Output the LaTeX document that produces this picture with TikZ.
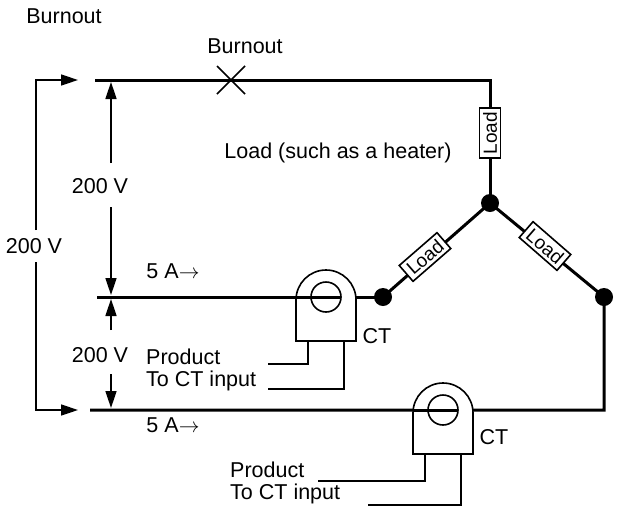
\documentclass[tikz,border=0pt]{standalone}
\usepackage{fontspec}
\setmainfont{Liberation Sans}
\usetikzlibrary{arrows.meta}
\tikzset{wire/.style={line width=3pt},
  thin/.style={line width=1.6pt},
  load/.style={draw,thin,fill=white,minimum width=50pt,minimum height=21pt,inner sep=1pt,font=\fontsize{19}{21}\selectfont},
  dot/.style={circle,fill=black,minimum size=18pt,inner sep=0pt},
  lbl/.style={inner sep=0pt,font=\fontsize{21.5}{24}\selectfont},
  tip/.style={-{Triangle[length=17pt,width=11pt]}}}
\begin{document}
\begin{tikzpicture}[x=1pt,y=-1pt]
\useasboundingbox (0,0) rectangle (628,512);
% nodes
\node[dot] (j) at (490,203) {};
\node[dot] (l) at (383,297) {};
\node[dot] (r) at (604,297) {};
\coordinate (ta) at (95,80);
\coordinate (tb) at (490,80);
\coordinate (ma) at (97,297);
\coordinate (ba) at (90,410);
\coordinate (bb) at (604,410);
% lines
\draw[wire] (ta) -- (tb) -- (j.center);
\draw[wire] (l.center) -- (j.center) -- (r.center) -- (bb) -- (ba);
\draw[wire] (ma) -- (l.center);
\node[load,rotate=90] (la) at (490,133) {Load};
\node[load,rotate=41] (lb) at (425,257) {Load};
\node[load,rotate=-41] (lc) at (545,246) {Load};
% burnout
\draw[thin] (217,66) -- (245,94) (217,94) -- (245,66);
\node[lbl] at (245,46) {Burnout};
\node[lbl] at (64,16) {Burnout};
\node[lbl] at (338,153) {Load (such as a heater)};
% voltages
\coordinate (ba1) at (36,80);
\coordinate (ba2) at (36,410);
\draw[thin,tip] (36,230) -- (ba1) -- (78,80);
\draw[thin,tip] (36,262) -- (ba2) -- (78,410);
\node[lbl] at (34,246) {200 V};
\draw[thin,tip] (111,163) -- (111,82);
\draw[thin,tip] (111,207) -- (111,295);
\node[lbl] at (100,186) {200 V};
\draw[thin,tip] (111,330) -- (111,299);
\draw[thin,tip] (111,374) -- (111,408);
\node[lbl] at (100,355) {200 V};
\node[lbl] at (173,271) {5 A$\rightarrow$};
\node[lbl] at (173,425) {5 A$\rightarrow$};
% CTs
\foreach \cx/\cy/\nm in {326/297/a,443/410/b}{
  \draw[thin,fill=white] (\cx-30,\cy+44) -- (\cx-30,\cy+3) arc (180:360:30) -- (\cx+30,\cy+44) -- cycle;
  \draw[wire] (\cx-30,\cy) -- (\cx+15,\cy);
  \draw[thin] (\cx,\cy) circle (15);
}
\draw[thin] (308,341) -- (308,364) -- (268,364);
\draw[thin] (344,341) -- (344,389) -- (268,389);
\draw[thin] (425,454) -- (425,481) -- (318,481);
\draw[thin] (461,454) -- (461,505) -- (368,505);
\node[lbl,anchor=west] at (146,357) {Product};
\node[lbl,anchor=west] at (146,381) {To CT input};
\node[lbl,anchor=west] at (230,470) {Product};
\node[lbl,anchor=west] at (230,494) {To CT input};
\node[lbl] at (377,336) {CT};
\node[lbl] at (494,437) {CT};
\end{tikzpicture}
\end{document}
